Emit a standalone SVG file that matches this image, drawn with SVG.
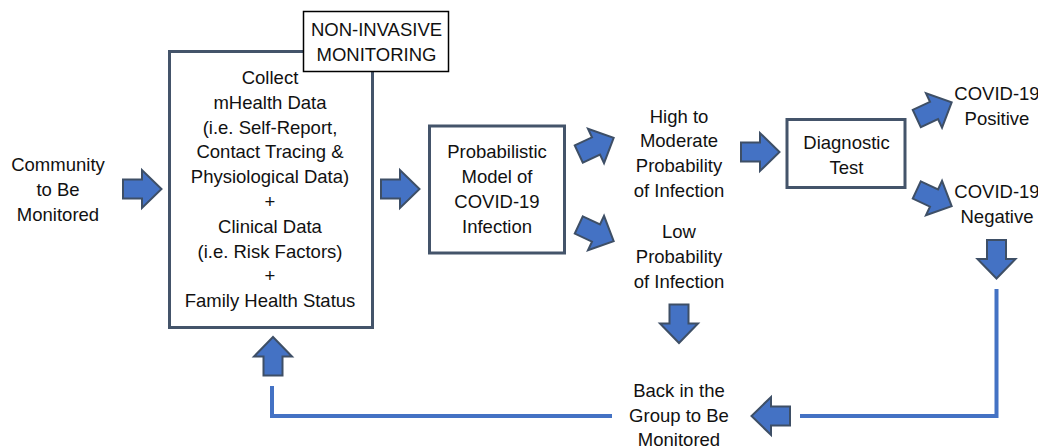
<svg xmlns="http://www.w3.org/2000/svg" xmlns:xlink="http://www.w3.org/1999/xlink" width="1038" height="448" viewBox="0 0 1038 448">
<style>
text{font-family:"Liberation Sans",Arial,sans-serif;font-size:18.5px;fill:#111;text-anchor:middle}
.box{fill:#fff;stroke:#44546A;stroke-width:3}
.lbl{fill:#fff;stroke:#000;stroke-width:1.5}
.arr{fill:#4472C4;stroke:#3E4F66;stroke-width:2;stroke-linejoin:miter}
.line{fill:none;stroke:#4472C4;stroke-width:4}
</style>
<defs>
<path id="ba" d="M-19,-9.5 L0,-9.5 L0,-19 L19.5,0 L0,19 L0,9.5 L-19,9.5 Z"/>
</defs>
<rect width="1038" height="448" fill="#fff"/>

<g id="community">
<text x="58" y="171">Community</text>
<text x="58" y="196">to Be</text>
<text x="58" y="221">Monitored</text>
</g>

<g id="collect">
<rect class="box" x="169.5" y="51.5" width="203" height="276"/>
<text x="270" y="84">Collect</text>
<text x="270" y="109">mHealth  Data</text>
<text x="270" y="133.6">(i.e. Self-Report,</text>
<text x="270" y="158.4">Contact Tracing &amp;</text>
<text x="270" y="183.2">Physiological  Data)</text>
<text x="270" y="208">+</text>
<text x="270" y="232.8">Clinical  Data</text>
<text x="270" y="257.6">(i.e. Risk Factors)</text>
<text x="270" y="282.4">+</text>
<text x="270" y="307.2">Family Health Status</text>
</g>

<g id="noninvasive">
<rect class="lbl" x="303.5" y="11.5" width="145" height="60"/>
<text x="376.5" y="36">NON-INVASIVE</text>
<text x="376.5" y="60.5">MONITORING</text>
</g>

<g id="model">
<rect class="box" x="429.5" y="126" width="135" height="127"/>
<text x="497" y="158">Probabilistic</text>
<text x="497" y="183">Model of</text>
<text x="497" y="208">COVID-19</text>
<text x="497" y="233">Infection</text>
</g>

<g id="high">
<text x="679" y="122.5">High to</text>
<text x="679" y="147">Moderate</text>
<text x="679" y="172">Probability</text>
<text x="679" y="197">of Infection</text>
</g>

<g id="low">
<text x="679" y="238">Low</text>
<text x="679" y="263">Probability</text>
<text x="679" y="288">of Infection</text>
</g>

<g id="diagnostic">
<rect class="box" x="787" y="119.5" width="118" height="68"/>
<text x="846.5" y="149">Diagnostic</text>
<text x="846.5" y="173.5">Test</text>
</g>

<g id="positive">
<text x="997" y="100">COVID-19</text>
<text x="997" y="125">Positive</text>
</g>

<g id="negative">
<text x="997" y="198">COVID-19</text>
<text x="997" y="223">Negative</text>
</g>

<g id="back">
<text x="679" y="397">Back in the</text>
<text x="679" y="421.5">Group to Be</text>
<text x="679" y="446">Monitored</text>
</g>

<g id="connectors">
<polyline class="line" points="996.5,289 996.5,416 800,416"/>
<polyline class="line" points="612,416 272,416 272,386"/>
<use xlink:href="#ba" class="arr" transform="translate(142,189)"/>
<use xlink:href="#ba" class="arr" transform="translate(400,189)"/>
<use xlink:href="#ba" class="arr" transform="translate(596,146) rotate(-25)"/>
<use xlink:href="#ba" class="arr" transform="translate(596,233) rotate(25)"/>
<use xlink:href="#ba" class="arr" transform="translate(679,323.5) rotate(90)"/>
<use xlink:href="#ba" class="arr" transform="translate(273,356.5) rotate(-90)"/>
<use xlink:href="#ba" class="arr" transform="translate(760,152)"/>
<use xlink:href="#ba" class="arr" transform="translate(934,110.5) rotate(-25)"/>
<use xlink:href="#ba" class="arr" transform="translate(934,198) rotate(25)"/>
<use xlink:href="#ba" class="arr" transform="translate(996.5,259) rotate(90)"/>
<use xlink:href="#ba" class="arr" transform="translate(771,416) rotate(180)"/>
</g>
</svg>
